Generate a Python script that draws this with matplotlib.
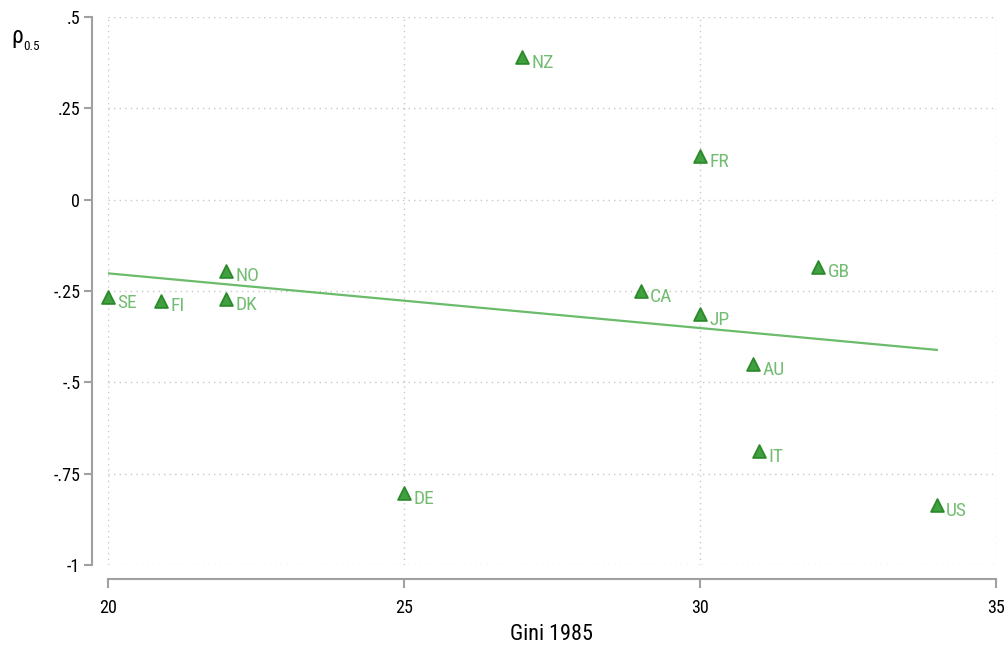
import numpy as np
import matplotlib
matplotlib.use("Agg")
import matplotlib.pyplot as plt
from matplotlib import font_manager

countries = ["SE", "FI", "DK", "NO", "DE", "NZ", "CA", "FR", "JP", "GB", "AU", "IT", "US"]
gini = [20.0, 20.9, 22.0, 22.0, 25.0, 27.0, 29.0, 30.0, 30.0, 32.0, 30.9, 31.0, 34.0]
rho = [-0.267, -0.277, -0.272, -0.195, -0.803, 0.39, -0.25, 0.119, -0.313, -0.184, -0.45, -0.688, -0.836]

xticks = [20, 25, 30, 35]
yticks = [0.5, 0.25, 0, -0.25, -0.5, -0.75, -1]
yticklabels = [".5", ".25", "0", "-.25", "-.5", "-.75", "-1"]

avail = {f.name for f in font_manager.fontManager.ttflist}
fams = [f for f in ["Roboto Condensed", "Archivo Narrow", "Liberation Sans"] if f in avail]
plt.rcParams["font.family"] = fams + ["DejaVu Sans"]

fig = plt.figure(figsize=(10.08, 6.45), dpi=100)
ax = fig.add_axes([108/1008, 1-565/645, (996-108)/1008, (565-17)/645])

ax.set_xlim(20, 35)
ax.set_ylim(-1, 0.5)

grid_c = "#c8c8c8"
for xv in xticks:
    ax.axvline(xv, color=grid_c, lw=1.0, ls=(0, (1, 3)), zorder=0)
for yv in yticks:
    ax.axhline(yv, color=grid_c, lw=1.0, ls=(0, (1, 3)), zorder=0)

# fitted line (OLS)
g = np.array(gini)
r = np.array(rho)
b, a = np.polyfit(g, r, 1)
xs = np.array([g.min(), g.max()])
ax.plot(xs, a + b * xs, color="#6abb6a", lw=1.6, zorder=2)

ax.scatter(g, r, marker="^", s=85, facecolor="#40a040", edgecolor="#2a8a2a",
           linewidths=1.3, zorder=3, clip_on=False)
for c, xv, yv in zip(countries, gini, rho):
    ax.annotate(c, (xv, yv), xytext=(6.5, -4), textcoords="offset points",
                ha="left", va="center", color="#72bd72", fontsize=14, zorder=4)

for s in ["top", "right"]:
    ax.spines[s].set_visible(False)
ax.spines["left"].set_position(("outward", 11.5))
ax.spines["bottom"].set_position(("outward", 10))
for s in ["left", "bottom"]:
    ax.spines[s].set_color("#a0a0a0")
    ax.spines[s].set_linewidth(1.5)

ax.set_xticks(xticks)
ax.set_xticklabels([str(t) for t in xticks])
ax.set_yticks(yticks)
ax.set_yticklabels(yticklabels)
ax.tick_params(axis="y", direction="out", length=5.5, width=1.5, color="#a0a0a0",
               labelsize=13, labelcolor="black", pad=3)
ax.tick_params(axis="x", direction="out", length=6.5, width=1.5, color="#a0a0a0",
               labelsize=13, labelcolor="black", pad=8)

ax.set_xlabel("Gini 1985", fontsize=16, labelpad=5)
fig.text(11/1008, 1-37/645, "ρ", fontsize=17, ha="left", va="center")
fig.text(23/1008, 1-46/645, "0.5", fontsize=9.5, ha="left", va="center")

fig.savefig("out.png", dpi=100)
